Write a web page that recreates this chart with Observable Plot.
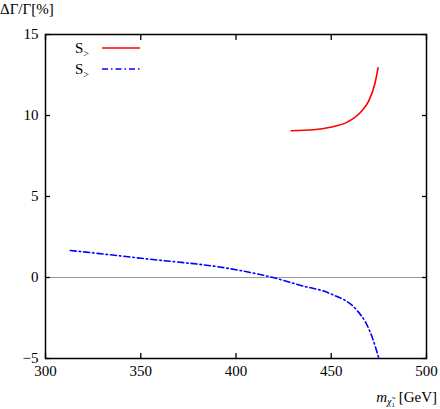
<!DOCTYPE html>
<html>
<head>
<meta charset="utf-8">
<script src="https://cdn.jsdelivr.net/npm/d3@7"></script>
<script src="https://cdn.jsdelivr.net/npm/@observablehq/plot@0.6"></script>
<style>
  body { margin: 0; background: #fff; font-family: "Liberation Serif", "DejaVu Serif", serif; }
  #chart { position: relative; width: 440px; height: 409px; }
</style>
</head>
<body>
<div id="chart"></div>
<script>
// Data
const redMass  = [429, 440.7, 449.6, 458.4, 465.4, 469.7, 472.9, 474.6];
const redDelta = [9.06, 9.12, 9.28, 9.59, 10.2, 10.9, 11.96, 12.95];
const blueMass  = [313, 350, 400, 420, 434, 449.6, 463.6, 468, 471.5, 475];
const blueDelta = [1.67, 1.19, 0.48, -0.02, -0.49, -1.0, -2.04, -2.76, -3.69, -5.0];
const xTicks = [300, 350, 400, 450, 500];
const yTicks = [-5, 0, 5, 10, 15];

const red = redMass.map((m, i) => ({m, d: redDelta[i]}));
const blue = blueMass.map((m, i) => ({m, d: blueDelta[i]}));

const FF = "Liberation Serif, DejaVu Serif, serif";
const W = 440, H = 409;
const plot = Plot.plot({
  width: W, height: H,
  marginLeft: 45, marginRight: 14, marginTop: 34, marginBottom: 51,
  style: {fontFamily: FF, fontSize: "15px", color: "#000", background: "#fff"},
  x: {domain: [300, 500], label: null},
  y: {domain: [-5, 15], label: null},
  marks: [
    Plot.ruleY([0], {stroke: "#999", strokeWidth: 1}),
    Plot.line(red, {x: "m", y: "d", stroke: "#ff0000", strokeWidth: 1.6, curve: "monotone-x"}),
    Plot.line(blue, {x: "m", y: "d", stroke: "#0000ff", strokeWidth: 1.6, curve: "monotone-x", strokeDasharray: "6,3,1.5,3", clip: true}),
    Plot.axisX({ticks: xTicks, anchor: "bottom", tickSize: -5, tickPadding: 12, label: null, tickFormat: d => String(d), strokeWidth: 1.3}),
    Plot.axisX({ticks: xTicks, anchor: "top", tickSize: -5, label: null, tickFormat: () => "", strokeWidth: 1.3}),
    Plot.axisY({ticks: yTicks, anchor: "left", tickSize: -5, tickPadding: 12, label: null, tickFormat: d => d < 0 ? "\u2212" + Math.abs(d) : String(d), strokeWidth: 1.3}),
    Plot.axisY({ticks: yTicks, anchor: "right", tickSize: -5, label: null, tickFormat: () => "", strokeWidth: 1.3}),
    Plot.frame({stroke: "#000", strokeWidth: 1.5})
  ]
});
document.getElementById("chart").appendChild(plot);

const svg = d3.select(plot);

// y-axis title
svg.append("text").attr("x", 0).attr("y", 14).attr("text-anchor", "start").attr("font-size", 15)
  .attr("fill", "#000").text("ΔΓ/Γ[%]");

// x-axis title
const xt = svg.append("text").attr("x", 437).attr("y", 402).attr("text-anchor", "end")
  .attr("font-size", 15).attr("fill", "#000");
xt.append("tspan").attr("font-style", "italic").text("m");
xt.append("tspan").attr("font-style", "italic").attr("font-size", 10).attr("dy", 3).text("χ\u0303");
xt.append("tspan").attr("font-size", 7).attr("dy", 2).text("1");
xt.append("tspan").attr("dy", -5).text(" [GeV]");

// legend
const legend = [
  {y: 48, color: "#ff0000", dash: null},
  {y: 69, color: "#0000ff", dash: "6,3,1.5,3"}
];
legend.forEach(l => {
  const t = svg.append("text").attr("x", 75).attr("y", l.y + 5).attr("text-anchor", "start")
    .attr("font-size", 15).attr("fill", "#000");
  t.append("tspan").text("S");
  t.append("tspan").attr("font-size", 10).attr("dy", 4).text(">");
  const ln = svg.append("line").attr("x1", 102).attr("x2", 140).attr("y1", l.y).attr("y2", l.y)
    .attr("stroke", l.color).attr("stroke-width", 1.6);
  if (l.dash) ln.attr("stroke-dasharray", l.dash);
});

svg.selectAll("text").attr("font-family", FF).style("font-family", FF, "important");
</script>
</body>
</html>
